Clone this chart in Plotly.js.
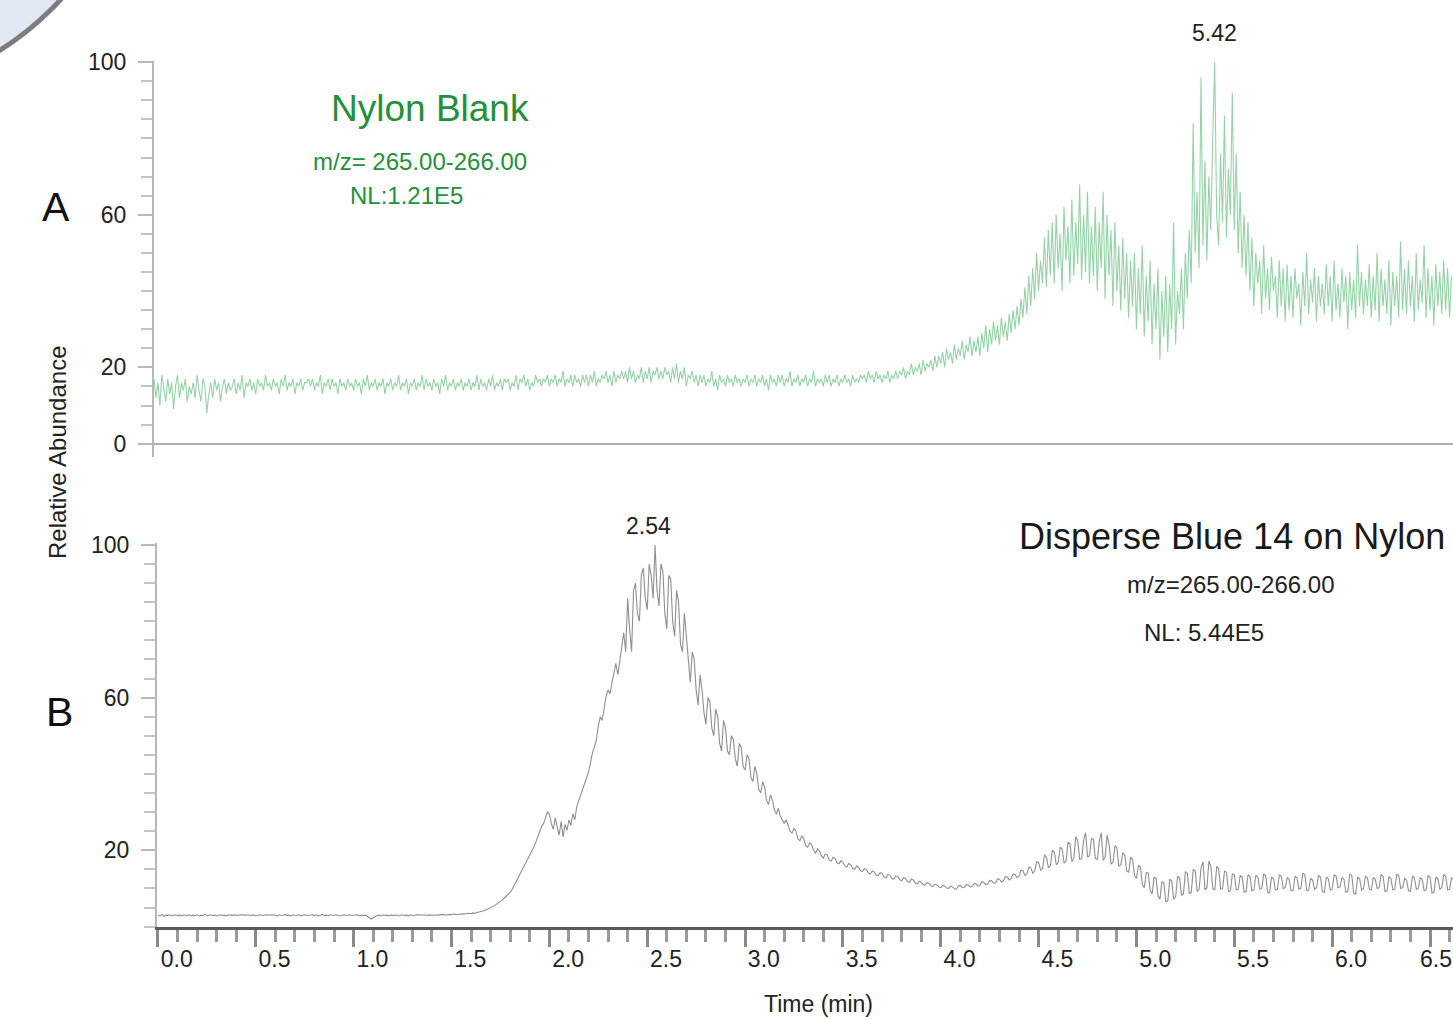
<!DOCTYPE html>
<html>
<head>
<meta charset="utf-8">
<script src="https://cdn.plot.ly/plotly-3.0.1.min.js"></script>
<style>
html,body{margin:0;padding:0;background:#fff;}
#chart{width:1453px;height:1019px;}
</style>
</head>
<body>
<div id="chart"></div>
<script>
// ---- sampling grid (minutes) ----
const timeStart = 0.0;
const timeStep = 0.01;

// ---- Panel A: Nylon Blank, m/z 265-266, relative abundance (%) ----
const blankAbundance = [
  17,12,16,10,18,14,11,17,13,16,9,15,18,12,16,14,17,11,15,13,
  16,12,18,14,11,17,15,8,13,16,12,17,14,16,11,15,17,13,16,14,
  15,17,13,16,14,18,12,16,15,17,14,16,13,17,15,16,14,18,15,16,
  14,17,15,16,13,17,15,18,14,16,15,17,13,16,15,17,14,16,16,17,
  15,17,14,16,15,18,13,16,15,17,14,17,15,16,13,17,15,16,14,17,
  15,16,14,17,15,16,13,17,15,18,14,16,15,17,14,16,15,17,13,16,
  15,17,14,16,15,18,14,16,15,17,13,16,15,17,14,16,15,18,14,17,
  15,16,14,17,15,16,13,17,15,18,14,16,15,17,14,16,15,17,14,16,
  15,17,14,16,15,18,14,17,15,16,14,17,15,18,14,16,15,17,14,17,
  16,17,14,16,15,18,14,17,16,18,15,17,14,16,15,18,16,17,15,17,
  16,18,15,17,16,18,15,17,16,19,15,17,16,18,15,18,16,17,15,18,
  16,18,15,18,16,19,15,17,16,18,17,19,16,18,15,19,16,18,17,19,
  17,19,16,20,17,19,16,18,17,20,16,19,17,20,16,19,18,20,17,19,
  17,20,18,19,16,20,17,21,16,19,17,20,15,18,17,19,16,18,15,18,
  16,18,15,17,16,19,15,17,14,18,16,17,15,18,16,17,15,18,16,17,
  15,17,16,18,15,17,16,18,15,17,16,18,15,17,14,18,16,17,15,18,
  16,18,15,17,16,19,15,17,16,18,15,17,16,18,15,17,16,19,15,17,
  16,17,15,18,16,18,15,17,16,18,15,17,16,18,16,17,15,18,16,17,
  16,18,17,18,16,19,17,18,16,19,17,18,16,18,17,19,16,18,17,19,
  17,19,18,20,17,19,18,21,18,20,19,21,18,22,19,21,20,22,19,23,
  20,23,21,24,20,25,22,24,21,26,22,25,23,27,22,26,24,28,23,27,
  24,28,23,29,25,31,24,30,26,32,27,31,26,33,28,32,27,34,29,35,
  30,36,31,38,33,41,34,44,36,46,38,50,40,48,42,54,41,56,44,58,
  42,60,46,55,40,62,48,57,42,64,44,58,47,68,43,60,45,66,42,57,
  44,62,40,58,46,66,38,60,44,56,36,58,40,52,35,54,38,50,33,48,
  36,50,30,46,34,52,28,44,32,48,26,42,30,46,22,40,28,44,24,42,
  30,58,26,40,34,46,30,50,38,56,42,84,50,66,46,96,52,74,48,70,
  56,80,100,60,52,76,58,86,54,72,60,92,56,76,50,66,46,60,44,58,
  40,54,36,50,42,48,34,52,38,46,35,49,40,44,33,48,36,46,32,47,
  35,44,33,46,38,42,31,45,36,50,34,43,37,46,32,44,36,42,34,47,
  36,44,32,48,35,42,33,46,37,44,30,45,35,43,33,52,36,45,34,43,
  36,47,33,44,35,50,32,46,36,43,34,48,31,45,36,44,33,53,35,46,
  34,48,36,44,32,50,35,43,37,52,33,46,35,44,31,47,36,45,34,48,
  35,46,33,44
];

// ---- Panel B: Disperse Blue 14 on Nylon, m/z 265-266, relative abundance (%) ----
const dyeAbundance = [
  3.0,2.8,3.2,2.7,3.0,2.9,3.1,2.8,3.0,3.1,2.9,3.0,2.8,3.1,3.0,2.9,3.1,2.8,3.0,2.9,
  3.1,2.8,3.0,2.9,3.2,2.8,3.0,3.1,2.9,3.0,2.8,3.0,3.1,2.9,3.0,2.8,3.1,3.0,2.9,3.0,
  3.0,2.9,3.1,3.0,2.9,3.0,3.1,2.9,3.0,3.0,2.8,3.0,3.1,3.0,2.9,3.1,3.0,2.9,3.0,3.1,
  3.0,2.8,3.1,2.9,3.0,3.2,2.9,3.0,2.8,3.1,3.0,2.9,3.1,2.8,3.0,3.1,2.9,3.0,2.9,3.1,
  2.9,3.1,2.8,3.0,3.2,2.9,3.0,2.8,3.1,3.0,2.9,3.1,3.0,2.8,3.0,3.1,2.9,3.0,3.1,2.9,
  3.0,2.9,3.1,2.8,3.0,2.9,3.0,2.7,2.4,2.0,2.3,2.7,2.9,3.0,2.8,3.1,2.9,3.0,2.8,3.0,
  3.0,2.9,3.1,2.8,3.0,3.1,2.9,3.0,2.8,3.1,3.0,2.9,3.1,3.0,2.9,3.0,3.1,2.9,3.0,3.1,
  3.0,2.9,3.1,3.0,3.1,3.0,3.2,3.0,3.1,3.2,3.1,3.3,3.2,3.1,3.3,3.2,3.4,3.3,3.5,3.4,
  3.4,3.6,3.5,3.7,3.8,3.9,4.1,4.2,4.5,4.7,5.0,5.3,5.5,5.9,6.2,6.6,7.0,7.5,8.0,8.6,
  9.0,9.8,10.8,11.6,12.6,13.6,14.8,15.6,16.5,17.6,18.6,19.8,20.8,22.0,23.5,24.8,26.2,27.0,28.5,30.0,
  29.5,27.0,25.5,28.5,26.0,24.0,27.6,23.5,26.8,25.2,28.0,26.5,29.6,28.0,31.5,33.0,35.0,36.0,37.5,39.0,
  40.5,43.0,45.5,47.0,49.0,52.5,55.0,54.0,57.0,60.5,62.0,61.0,64.0,67.0,69.0,66.0,70.0,74.0,77.0,72.0,
  86,78,72,88,90,82,80,92,94,86,83,95,92,86,100,88,84,95,93,82,
  78,92,91,80,76,88,85,74,72,82,76,68,64,72,70,62,58,66,62,56,
  53,60,59,52,50,57,55,48,46,54,52,46,45,50,49,44,42,48,47,42,
  41,45,44,39,38,42,40,36,35,38,36.5,33,32,34.5,33,30.5,29.5,31,29,28,
  27,28,26.5,25,24.5,25.8,25,23,22.5,23.8,23,21.2,20.8,22,21.5,20,19.2,20.4,19.8,18.6,
  18,19,18.8,17.4,17.2,18.2,17.9,16.8,16.5,17.3,16.8,15.9,15.6,16.6,16.2,15.2,15.0,15.9,15.5,14.6,
  14.4,15.2,15.0,14.1,13.8,14.6,14.3,13.5,13.3,14.1,13.9,13.0,12.8,13.7,13.5,12.6,12.4,13.3,13.1,12.3,
  12.0,12.8,12.6,11.8,11.6,12.4,12.2,11.4,11.2,11.9,11.6,11.0,10.9,11.5,11.3,10.7,10.5,11.1,10.9,10.4,
  10.2,10.8,10.6,10.1,10.0,10.6,10.4,9.9,9.8,10.7,10.8,10.2,10.3,11.0,10.9,10.4,10.5,11.3,11.2,10.6,
  10.8,11.7,11.6,11.0,11.2,12.1,12.0,11.4,11.5,12.5,12.4,11.7,12.0,13.1,13.0,12.2,12.6,13.8,13.6,12.8,
  13.2,14.8,14.6,13.4,13.8,15.6,15.4,14.0,14.6,17.0,16.8,14.8,15.2,18.8,18.2,15.4,16.0,20.0,19.6,16.2,
  16.8,20.8,20.4,16.6,17.2,22.0,21.8,17.0,18.0,23.6,22.4,17.6,17.8,22.6,24.6,18.2,18.6,23.2,22.8,17.8,
  17.6,22.4,24.6,17.4,18.2,24.0,21.6,16.4,16.8,21.2,20.6,15.8,16.2,19.4,18.8,14.6,14.2,18.2,17.6,13.4,
  12.6,16.0,15.6,11.0,10.2,14.2,14.0,9.4,8.6,13.0,12.6,8.0,7.2,11.8,11.4,6.4,6.8,12.4,12.0,7.2,
  7.8,13.2,12.8,8.2,8.6,14.4,14.0,8.6,9.0,15.0,14.6,9.2,9.8,15.4,17.0,9.6,10.2,17.2,15.8,10.0,
  9.6,15.8,15.2,9.8,10.0,14.6,14.2,9.2,9.4,13.8,13.6,9.6,9.8,13.4,13.0,9.0,9.2,13.6,13.2,9.4,
  9.6,13.4,13.0,9.8,10.0,13.8,13.4,9.0,8.8,13.0,12.6,9.6,9.8,13.6,13.2,10.0,10.2,12.8,12.4,9.4,
  9.4,13.2,12.8,9.8,10.0,14.0,13.6,9.4,9.6,12.6,12.2,9.8,10.2,13.4,13.0,9.2,9.0,13.0,12.6,9.6,
  9.8,13.6,13.2,10.2,10.4,12.8,12.4,9.0,9.2,13.8,13.4,8.8,8.4,13.0,12.6,9.6,10.0,13.2,12.8,9.8,
  9.6,12.8,12.4,10.0,10.2,13.6,13.2,9.2,9.4,13.0,12.6,9.6,9.8,13.8,13.4,10.0,10.2,12.6,12.2,9.4,
  9.2,13.2,12.8,9.8,10.0,12.8,12.4,9.4,9.6,13.4,13.0,8.8,9.0,13.0,12.6,9.8,10.2,13.6,13.2,9.6,
  9.8,12.8,12.4,9.6
];

// ---- labels ----
const yTickValsA = [0, 20, 60, 100];
const yTickValsB = [20, 60, 100];
const xTickVals = [0, 0.5, 1, 1.5, 2, 2.5, 3, 3.5, 4, 4.5, 5, 5.5, 6, 6.5];
const xTickLabels = ["0.0", "0.5", "1.0", "1.5", "2.0", "2.5", "3.0", "3.5", "4.0", "4.5", "5.0", "5.5", "6.0", "6.5"];
const peakA = {time: 5.42, label: "5.42"};
const peakB = {time: 2.54, label: "2.54"};
const titleA = ["Nylon Blank", "m/z= 265.00-266.00", "NL:1.21E5"];
const titleB = ["Disperse Blue 14 on Nylon", "m/z=265.00-266.00", "NL: 5.44E5"];
const panelLabels = ["A", "B"];
const xTitle = "Time (min)";
const yTitle = "Relative Abundance";

const timesA = blankAbundance.map((_, i) => +(timeStart + i * timeStep).toFixed(3));
const timesB = dyeAbundance.map((_, i) => +(timeStart + i * timeStep).toFixed(3));

const FONT = "Liberation Sans, Arial, Helvetica, sans-serif";
const W = 1453, H = 1019;
const px = v => v / W;
const py = v => (H - v) / H;

// the last tick label sits at the right edge: draw it as an annotation that stays inside the page
const lastIdx = xTickLabels.length - 1;
const xTickTextShown = xTickLabels.map((t, i) => i === lastIdx ? "" : t);

const traces = [
  {x: timesA, y: blankAbundance, xaxis: "x", yaxis: "y", type: "scatter", mode: "lines",
   line: {color: "rgba(80,180,110,0.6)", width: 1.1}, hoverinfo: "x+y"},
  {x: timesB, y: dyeAbundance, xaxis: "x2", yaxis: "y2", type: "scatter", mode: "lines",
   line: {color: "rgba(95,95,95,0.7)", width: 1.1}, hoverinfo: "x+y"}
];

const tickFont = {family: FONT, size: 23, color: "#222"};
const green = "#24903a";

const layout = {
  width: W, height: H,
  margin: {l: 0, r: 0, t: 0, b: 0},
  paper_bgcolor: "#fff", plot_bgcolor: "rgba(0,0,0,0)",
  showlegend: false,
  font: {family: FONT, color: "#222"},
  xaxis: {
    domain: [px(154), 1], range: [0, (W - 154) / 195.7], anchor: "y",
    showline: false, showgrid: false, zeroline: false, showticklabels: false, ticks: ""
  },
  yaxis: {
    domain: [py(457), py(61)], range: [-3.5, 100.3], anchor: "x",
    showline: true, linecolor: "#b8b8b8", linewidth: 2,
    showgrid: false, zeroline: true, zerolinecolor: "#b0b0b0", zerolinewidth: 2,
    tickmode: "array", tickvals: yTickValsA, ticks: "outside", ticklen: 14, tickwidth: 2, tickcolor: "#b8b8b8",
    ticklabelstandoff: 7, tickfont: tickFont,
    minor: {tickmode: "linear", tick0: 0, dtick: 5, ticks: "outside", ticklen: 11, tickwidth: 2, tickcolor: "#c4c4c4", showgrid: false}
  },
  xaxis2: {
    domain: [px(157), 1], range: [-0.005, (W - 158) / 195.7], anchor: "y2",
    showline: true, linecolor: "#5a5a5a", linewidth: 2.5,
    showgrid: false, zeroline: false,
    tickmode: "array", tickvals: xTickVals, ticktext: xTickTextShown,
    ticks: "outside", ticklen: 17, tickwidth: 3, tickcolor: "#8a8a8a",
    ticklabelposition: "outside right", ticklabelstandoff: 10, ticklabeloverflow: "allow",
    tickfont: tickFont,
    minor: {tickmode: "linear", tick0: 0, dtick: 0.1, ticks: "outside", ticklen: 12, tickwidth: 3, tickcolor: "#9a9a9a", showgrid: false}
  },
  yaxis2: {
    domain: [py(927), py(543)], range: [-0.1, 100.5], anchor: "x2",
    showline: true, linecolor: "#b8b8b8", linewidth: 2,
    showgrid: false, zeroline: false,
    tickmode: "array", tickvals: yTickValsB, ticks: "outside", ticklen: 14, tickwidth: 2, tickcolor: "#b8b8b8",
    ticklabelstandoff: 7, tickfont: tickFont,
    minor: {tickmode: "linear", tick0: 0, dtick: 5, ticks: "outside", ticklen: 11, tickwidth: 2, tickcolor: "#c4c4c4", showgrid: false}
  },
  shapes: [
    {type: "circle", xref: "paper", yref: "paper", layer: "above",
     x0: px(-434), x1: px(134), y0: py(93), y1: py(-475),
     fillcolor: "#e1e8f4", line: {color: "#7d7d7d", width: 5}}
  ],
  annotations: [
    {xref: "x", yref: "y", x: peakA.time, y: 100, text: peakA.label, showarrow: false,
     yanchor: "bottom", yshift: 14, font: {family: FONT, size: 23, color: "#222"}},
    {xref: "x2", yref: "y2", x: peakB.time, y: 100, text: peakB.label, showarrow: false,
     yanchor: "bottom", yshift: 4, xshift: -7, font: {family: FONT, size: 23, color: "#222"}},
    {xref: "paper", yref: "paper", x: 1, y: py(959), text: xTickLabels[lastIdx], showarrow: false,
     xanchor: "right", yanchor: "middle", borderpad: 0, font: tickFont},
    {xref: "paper", yref: "paper", x: px(430), y: py(108), text: titleA[0], showarrow: false,
     xanchor: "center", yanchor: "middle", font: {family: FONT, size: 37, color: green}},
    {xref: "paper", yref: "paper", x: px(420), y: py(161), text: titleA[1], showarrow: false,
     xanchor: "center", yanchor: "middle", font: {family: FONT, size: 24, color: green}},
    {xref: "paper", yref: "paper", x: px(406), y: py(195), text: titleA[2], showarrow: false,
     xanchor: "center", yanchor: "middle", font: {family: FONT, size: 24, color: green}},
    {xref: "paper", yref: "paper", x: px(1017), y: py(537), text: titleB[0], showarrow: false,
     xanchor: "left", yanchor: "middle", font: {family: FONT, size: 36, color: "#1a1a1a"}},
    {xref: "paper", yref: "paper", x: px(1230), y: py(584), text: titleB[1], showarrow: false,
     xanchor: "center", yanchor: "middle", font: {family: FONT, size: 24, color: "#222"}},
    {xref: "paper", yref: "paper", x: px(1204), y: py(632), text: titleB[2], showarrow: false,
     xanchor: "center", yanchor: "middle", font: {family: FONT, size: 24, color: "#222"}},
    {xref: "paper", yref: "paper", x: px(56), y: py(207), text: panelLabels[0], showarrow: false,
     xanchor: "center", yanchor: "middle", font: {family: FONT, size: 41, color: "#111"}},
    {xref: "paper", yref: "paper", x: px(59), y: py(712), text: panelLabels[1], showarrow: false,
     xanchor: "center", yanchor: "middle", font: {family: FONT, size: 41, color: "#111"}},
    {xref: "paper", yref: "paper", x: px(58), y: py(452), text: yTitle, showarrow: false, textangle: -90,
     xanchor: "center", yanchor: "middle", font: {family: FONT, size: 24, color: "#222"}},
    {xref: "paper", yref: "paper", x: px(818), y: py(1004), text: xTitle, showarrow: false,
     xanchor: "center", yanchor: "middle", font: {family: FONT, size: 23, color: "#222"}}
  ]
};

Plotly.newPlot("chart", traces, layout, {displayModeBar: false, responsive: false});
</script>
</body>
</html>
